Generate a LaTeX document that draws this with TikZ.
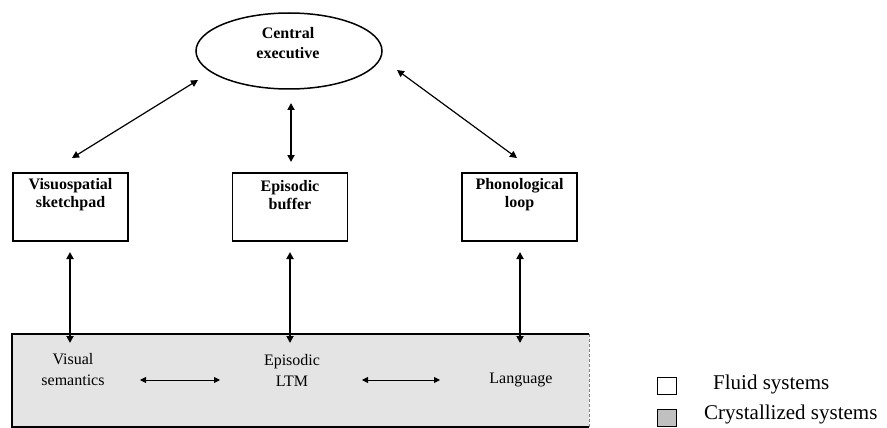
\documentclass[tikz,border=0pt]{standalone}
\usepackage{fontspec}
\setmainfont{Liberation Serif}
\usetikzlibrary{arrows.meta,shapes.geometric}
\definecolor{ltmgray}{RGB}{228,228,228}
\definecolor{leggray}{RGB}{192,192,192}
\begin{document}
\begin{tikzpicture}[x=1pt,y=-1pt,
  box/.style={draw,line width=1.8pt,minimum width=115pt,minimum height=68pt,inner sep=0pt},
  btext/.style={font=\fontsize{16}{18}\selectfont\bfseries,align=center,inner sep=0pt},
  ctext/.style={font=\fontsize{16}{20}\selectfont\bfseries,align=center,inner sep=0pt},
  ltext/.style={font=\fontsize{16}{21}\selectfont,align=center,inner sep=0pt},
  legtext/.style={font=\fontsize{21}{24}\selectfont,anchor=west,inner sep=0pt},
  legbox/.style={draw,line width=1.6pt,minimum width=19pt,minimum height=17pt,inner sep=0pt},
  tip/.tip={Triangle[length=7pt,width=7pt]},
  stip/.tip={Triangle[length=6pt,width=6pt]},
  varr/.style={line width=1.8pt,tip-tip},
  darr/.style={line width=1.2pt,tip-tip},
  harr/.style={line width=0.9pt,stip-stip}]
\useasboundingbox (0,0) rectangle (887,428);
% central executive
\node[draw,ellipse,line width=1.5pt,minimum width=186pt,minimum height=76pt,inner sep=0pt] (ce) at (289,51) {};
\node[ctext] (cet) at (288,43) {Central\\executive};
% boxes
\node[box] (vs) at (70.5,207) {};
\node[btext] (vst) at (70.5,195) {Visuospatial\\sketchpad};
\node[box] (eb) at (290,207) {};
\node[btext] (ebt) at (290,195) {Episodic\\buffer};
\node[box] (pl) at (519.5,207) {};
\node[btext] (plt) at (519.5,195) {Phonological\\loop};
% long-term memory band
\fill[ltmgray] (12,334) rectangle (589,427);
\draw[line width=1.5pt] (589,334) -- (12,334) -- (12,427) -- (589,427);
\draw[gray,densely dashed,line width=0.8pt] (589,334) -- (589,427);
\node[ltext] (vsem) at (73,370) {Visual\\semantics};
\node[ltext] (eltm) at (292,370) {Episodic\\LTM};
\node[ltext] (lang) at (521,380) {Language};
% connector end points
\coordinate (a1) at (72,158);
\coordinate (a2) at (198,80);
\coordinate (b1) at (291,103);
\coordinate (b2) at (291,162);
\coordinate (c1) at (397,70);
\coordinate (c2) at (517,158);
\coordinate (v1) at (70,252);
\coordinate (v2) at (70,343);
\coordinate (e1) at (290,252);
\coordinate (e2) at (290,343);
\coordinate (l1) at (520,252);
\coordinate (l2) at (520,343);
\coordinate (h1) at (140,380);
\coordinate (h2) at (220,380);
\coordinate (h3) at (362,380);
\coordinate (h4) at (440,380);
\draw[darr] (a1) -- (a2);
\draw[varr] (b1) -- (b2);
\draw[darr] (c1) -- (c2);
\draw[varr] (v1) -- (v2);
\draw[varr] (e1) -- (e2);
\draw[varr] (l1) -- (l2);
\draw[harr] (h1) -- (h2);
\draw[harr] (h3) -- (h4);
% legend
\node[legbox,fill=white] (fl) at (667,386) {};
\node[legtext] (flt) at (713,384) {Fluid systems};
\node[legbox,fill=leggray] (cr) at (667,418) {};
\node[legtext] (crt) at (704,414) {Crystallized systems};
\end{tikzpicture}
\end{document}
